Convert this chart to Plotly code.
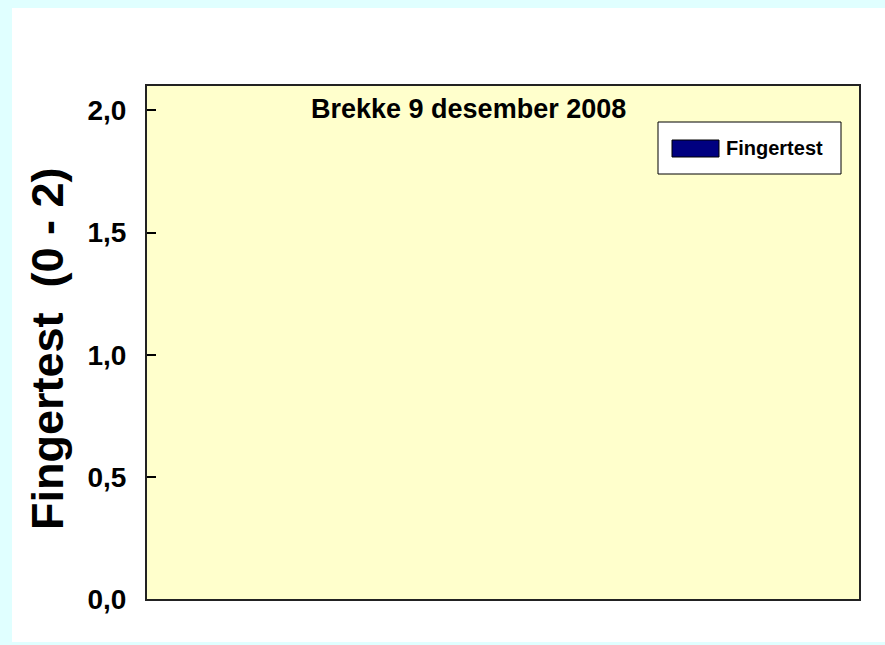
import plotly.graph_objects as go

# Data
categories = ["Brekke"]
fingertest = [0]
series_name = "Fingertest"
y_ticks = [0.0, 0.5, 1.0, 1.5, 2.0]
chart_title = "Brekke 9 desember 2008"
y_title = "Fingertest  (0 - 2)"

W, H = 885, 645
L, R, T, B = 147, 859, 86, 599  # plot area in pixels
FONT = "Arial, Liberation Sans, sans-serif"


def px(x):
    return (x - L) / (R - L)


def py(y):
    return (B - y) / (B - T)


fig = go.Figure()
fig.add_trace(go.Bar(
    x=categories, y=fingertest, name=series_name,
    marker=dict(color="#000080", line=dict(width=0)),
    showlegend=False,
))

shapes = [
    # white frame on the cyan page
    dict(type="rect", xref="paper", yref="paper", layer="below",
         x0=px(12), x1=px(900), y0=py(642), y1=py(8),
         fillcolor="white", line=dict(width=0)),
    # pale yellow plot area
    dict(type="rect", xref="paper", yref="paper", layer="below",
         x0=0, x1=1, y0=0, y1=1, fillcolor="#FFFFCC", line=dict(width=0)),
    # legend box
    dict(type="rect", xref="paper", yref="paper",
         x0=px(658), x1=px(841), y0=py(174), y1=py(122),
         fillcolor="white", line=dict(color="black", width=1)),
    # legend swatch
    dict(type="rect", xref="paper", yref="paper",
         x0=px(672), x1=px(719), y0=py(157), y1=py(140),
         fillcolor="#000080", line=dict(color="black", width=1)),
]

annotations = [
    dict(text=f"<b>{chart_title}</b>", xref="paper", yref="paper",
         x=px(468), y=py(109), xanchor="center", yanchor="middle",
         showarrow=False, font=dict(family=FONT, size=27, color="black")),
    dict(text=f"<b>{series_name}</b>", xref="paper", yref="paper",
         x=px(724), y=py(148), xanchor="left", yanchor="middle",
         showarrow=False, font=dict(family=FONT, size=20, color="black")),
    dict(text=f"<b>{y_title.replace(' ', '&nbsp;')}</b>", xref="paper", yref="paper",
         x=px(47), y=py(349), xanchor="center", yanchor="middle",
         textangle=-90, showarrow=False,
         font=dict(family=FONT, size=45, color="black")),
]

fig.update_layout(
    width=W, height=H,
    margin=dict(l=L, r=W - R, t=T, b=H - B, pad=0),
    paper_bgcolor="#E0FFFF",
    plot_bgcolor="rgba(0,0,0,0)",
    separators=",.",
    shapes=shapes,
    annotations=annotations,
    showlegend=False,
    xaxis=dict(
        showticklabels=False, ticks="", showgrid=False, zeroline=False,
        showline=True, mirror=True, linecolor="#222222", linewidth=2,
        range=[-0.5, 0.5],
    ),
    yaxis=dict(
        range=[0, 2.1], tickvals=y_ticks, tickformat=".1f",
        ticks="inside", ticklen=9, tickwidth=2, tickcolor="black",
        ticklabelstandoff=13,
        tickfont=dict(family=FONT, size=28, color="black", weight="bold"),
        showgrid=False, zeroline=False,
        showline=True, mirror=True, linecolor="#222222", linewidth=2,
    ),
)

fig.write_html("out.html")
